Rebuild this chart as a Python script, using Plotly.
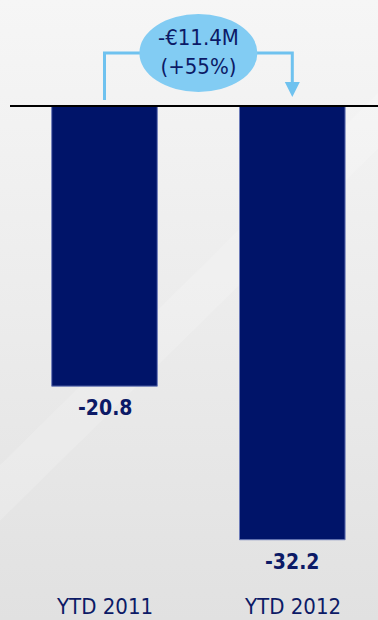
import plotly.graph_objects as go

# Data
categories = ["YTD 2011", "YTD 2012"]
values = [-20.8, -32.2]

# Change between the two periods, shown in the callout
change = values[1] - values[0]
change_pct = change / values[0] * 100

BAR_COLOR = "#001469"
TEXT_COLOR = "#0c1a66"
CALLOUT_FILL = "#82ccf3"
CALLOUT_LINE = "#6fc2ef"
FONT = "DejaVu Sans Condensed, Liberation Sans, sans-serif"

W, H = 378, 620
ZERO_PX = 106          # pixel row of the zero line
PX_PER_UNIT = 13.47    # vertical scale
X0_PX = 104.5          # pixel column of the first category
PX_PER_CAT = 187.8     # spacing between categories

y_range = [-(H - ZERO_PX) / PX_PER_UNIT, ZERO_PX / PX_PER_UNIT]
x_range = [-X0_PX / PX_PER_CAT, (W - X0_PX) / PX_PER_CAT]


def y_at(px):
    """Data y for a pixel row."""
    return (ZERO_PX - px) / PX_PER_UNIT


def dx(px):
    """Data x width for a pixel width."""
    return px / PX_PER_CAT


fig = go.Figure()

# Background: soft vertical grey gradient on its own full-page axes
fig.add_trace(go.Scatter(
    x=[0, 1, 1, 0, 0], y=[0, 0, 1, 1, 0],
    xaxis="x", yaxis="y",
    mode="lines", line=dict(width=0),
    fill="toself",
    fillgradient=dict(type="vertical",
                      colorscale=[[0, "#e1e1e1"], [0.5, "#ececec"], [1, "#f6f6f6"]]),
    hoverinfo="skip", showlegend=False,
))
# faint diagonal highlight
fig.add_trace(go.Scatter(
    x=[0, 0, 1, 1, 0], y=[0.16, 0.25, 0.85, 0.76, 0.16],
    xaxis="x", yaxis="y",
    mode="lines", line=dict(width=0),
    fill="toself", fillcolor="rgba(255,255,255,0.16)",
    hoverinfo="skip", showlegend=False,
))

# Bars
fig.add_trace(go.Bar(
    x=list(range(len(categories))), y=values,
    xaxis="x2", yaxis="y2",
    width=dx(105.6),
    marker=dict(color=BAR_COLOR, line=dict(color="#6c7bb8", width=1)),
    hoverinfo="skip", showlegend=False,
))

shapes = []
# zero line
shapes.append(dict(type="line", xref="paper", yref="y2",
                   x0=10 / W, x1=1, y0=0, y1=0,
                   line=dict(color="#000000", width=2)))

# callout connector: up from first bar, across, down to second bar
conn_y = y_at(53)
shapes.append(dict(type="path", xref="x2", yref="y2",
                   path=f"M 0 {y_at(100)} L 0 {conn_y} L 1 {conn_y} L 1 {y_at(83)}",
                   line=dict(color=CALLOUT_LINE, width=3)))
# arrow head
shapes.append(dict(type="path", xref="x2", yref="y2",
                   path=(f"M {1 - dx(7.5)} {y_at(82)} L {1 + dx(7.5)} {y_at(82)} "
                         f"L 1 {y_at(97)} Z"),
                   fillcolor=CALLOUT_LINE, line=dict(width=0)))
# ellipse bubble
shapes.append(dict(type="circle", xref="x2", yref="y2",
                   x0=0.5 - dx(59), x1=0.5 + dx(59),
                   y0=y_at(92), y1=y_at(14),
                   fillcolor=CALLOUT_FILL, line=dict(width=0)))

annotations = []
# callout text
sign = "-" if change < 0 else "+"
annotations.append(dict(
    x=0.5, y=y_at(52), xref="x2", yref="y2",
    text=f"{sign}€{abs(change):.1f}M<br>({'+' if change_pct >= 0 else '-'}{abs(change_pct):.0f}%)",
    showarrow=False, xanchor="center", yanchor="middle",
    font=dict(family=FONT, size=22, color=TEXT_COLOR),
))
# value labels under each bar
for i, v in enumerate(values):
    annotations.append(dict(
        x=i, y=v, xref="x2", yref="y2",
        text=f"<b>{v:.1f}</b>", showarrow=False,
        xanchor="center", yanchor="middle", yshift=-22,
        font=dict(family=FONT, size=21, color=TEXT_COLOR),
    ))
# category labels along the bottom
for i, c in enumerate(categories):
    annotations.append(dict(
        x=i, y=1 - 606 / H, xref="x2", yref="paper",
        text=c, showarrow=False,
        xanchor="center", yanchor="middle",
        font=dict(family=FONT, size=22, color=TEXT_COLOR),
    ))

fig.update_layout(
    width=W, height=H,
    margin=dict(l=0, r=0, t=0, b=0),
    paper_bgcolor="#eeeeee", plot_bgcolor="rgba(0,0,0,0)",
    xaxis=dict(range=[0, 1], visible=False, fixedrange=True),
    yaxis=dict(range=[0, 1], visible=False, fixedrange=True),
    xaxis2=dict(range=x_range, overlaying="x", visible=False, fixedrange=True),
    yaxis2=dict(range=y_range, overlaying="y", visible=False, fixedrange=True),
    shapes=shapes,
    annotations=annotations,
    showlegend=False,
)

fig.write_html("out.html", config={"displayModeBar": False})
